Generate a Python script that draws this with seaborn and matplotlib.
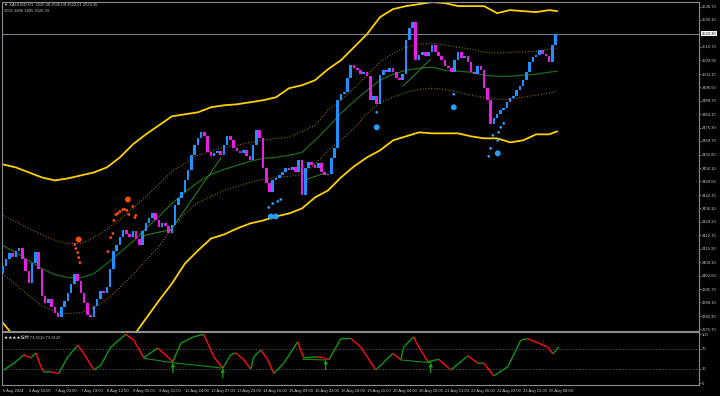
import numpy as np
import matplotlib
matplotlib.use("Agg")
import matplotlib.pyplot as plt
import seaborn as sns
from matplotlib.collections import LineCollection

sns.set_theme(style="dark")
plt.rcParams['font.family'] = ['Liberation Sans', 'DejaVu Sans', 'Noto Sans CJK SC']

# ---------------- data ----------------
first_open = 2404.0
closes = [
    2407.5, 2411.0, 2414.0, 2412.0, 2415.0, 2416.5, 2411.0, 2405.0, 2399.0, 2409.0,
    2414.5, 2406.0, 2392.5, 2389.0, 2391.0, 2387.0, 2384.0, 2382.0, 2387.0, 2390.0,
    2394.0, 2398.5, 2403.5, 2400.0, 2394.0, 2389.0, 2383.0, 2382.0, 2387.5, 2391.0,
    2395.0, 2394.0, 2397.0, 2406.0, 2415.0, 2418.0, 2422.0, 2425.5, 2423.5, 2422.0,
    2425.0, 2421.0, 2418.0, 2425.0, 2429.0, 2431.0, 2433.5, 2430.0, 2427.0, 2429.0,
    2427.5, 2424.0, 2428.0, 2437.5, 2441.0, 2444.0, 2450.0, 2455.0, 2462.5, 2467.5,
    2471.0, 2474.0, 2472.0, 2464.0, 2462.0, 2463.5, 2464.5, 2462.5, 2467.5, 2472.0,
    2470.0, 2466.0, 2464.5, 2463.5, 2465.0, 2462.0, 2460.0, 2467.5, 2475.0, 2471.0,
    2456.0, 2448.5, 2444.0, 2450.0, 2451.0, 2452.5, 2454.0, 2456.0, 2455.0, 2456.5,
    2454.0, 2460.0, 2442.5, 2456.0, 2459.0, 2457.5, 2456.0, 2458.5, 2454.0, 2452.5,
    2453.0, 2461.0, 2466.0, 2490.0, 2493.0, 2494.0, 2501.0, 2507.5, 2506.0, 2505.0,
    2503.0, 2504.0, 2502.0, 2490.0, 2492.0, 2488.0, 2502.5, 2505.0, 2504.0, 2506.0,
    2504.0, 2501.0, 2500.0, 2503.0, 2520.0, 2526.0, 2529.0, 2510.0, 2512.5, 2514.0,
    2512.0, 2514.0, 2517.5, 2514.0, 2512.0, 2510.0, 2507.0, 2506.0, 2504.0, 2510.0,
    2514.0, 2511.0, 2512.0, 2509.0, 2504.0, 2503.0, 2507.0, 2505.0, 2496.0, 2490.0,
    2478.0, 2481.0, 2483.0, 2485.0, 2486.0, 2489.0, 2491.0, 2492.0, 2495.0, 2497.0,
    2500.0, 2504.0, 2509.0, 2511.5, 2512.5, 2515.0, 2513.0, 2512.0, 2509.0, 2517.5,
    2523.3,
]

upper_band = [
    2458.0, 2456.5, 2454.0, 2451.5, 2450.0, 2451.0, 2452.5, 2454.0, 2456.5, 2461.5,
    2468.0, 2473.0, 2477.5, 2482.0, 2483.0, 2484.0, 2486.5, 2487.5, 2488.0, 2489.0,
    2490.0, 2491.5, 2496.0, 2497.5, 2500.0, 2505.5, 2510.0, 2516.5, 2523.0, 2531.5,
    2535.5, 2537.0, 2538.0, 2539.0, 2538.5, 2537.0, 2537.0, 2537.0, 2533.5, 2535.0,
    2534.5, 2534.0, 2535.0, 2534.5,
]
lower_band = [
    2379.0, 2371.0, 2364.0, 2359.0, 2355.0, 2353.0, 2352.5, 2354.0, 2357.5, 2364.0,
    2372.0, 2381.0, 2390.0, 2398.5, 2408.5, 2415.0, 2421.0, 2423.0, 2426.0, 2428.5,
    2430.0, 2432.0, 2433.5, 2436.0, 2441.5, 2445.0, 2451.5, 2457.0, 2461.5, 2465.0,
    2470.0, 2472.0, 2474.0, 2473.5, 2473.5, 2473.5, 2472.0, 2471.0, 2471.0, 2469.0,
    2470.0, 2473.0, 2473.0, 2474.5,
]
upper_dotted = [
    2432.5, 2429.5, 2426.0, 2423.0, 2420.0, 2418.5, 2418.5, 2421.5, 2425.5, 2430.5,
    2436.0, 2442.0, 2448.0, 2454.5, 2458.5, 2462.5, 2464.5, 2466.5, 2467.5, 2469.0,
    2470.0, 2471.0, 2471.5, 2474.5, 2477.5, 2485.0, 2490.0, 2496.0, 2502.5, 2509.0,
    2513.5, 2516.5, 2518.0, 2518.5, 2517.5, 2516.5, 2515.5, 2514.0, 2513.5, 2514.0,
    2514.0, 2514.5, 2515.5, 2516.0,
]
lower_dotted = [
    2403.5, 2398.0, 2392.5, 2387.5, 2384.5, 2383.5, 2384.0, 2386.5, 2390.5, 2396.5,
    2403.0, 2410.0, 2417.0, 2426.0, 2433.5, 2439.0, 2442.0, 2445.0, 2447.0, 2449.0,
    2450.5, 2451.5, 2452.0, 2453.0, 2458.0, 2465.0, 2470.0, 2476.0, 2483.5, 2489.0,
    2491.5, 2494.0, 2495.5, 2496.0, 2495.5, 2494.0, 2492.5, 2491.5, 2490.5, 2490.5,
    2491.5, 2492.5, 2493.5, 2494.5,
]
middle_line = [
    2417.5, 2414.0, 2410.0, 2406.0, 2403.0, 2401.5, 2401.5, 2403.5, 2408.5, 2414.0,
    2419.5, 2426.0, 2432.0, 2438.5, 2444.0, 2449.0, 2453.0, 2455.5, 2457.5, 2459.5,
    2461.0, 2461.5, 2462.5, 2464.0, 2470.0, 2476.5, 2483.5, 2489.5, 2495.0, 2500.0,
    2503.0, 2505.0, 2506.0, 2506.5, 2505.0, 2504.5, 2504.0, 2502.5, 2502.0, 2502.0,
    2502.5, 2503.0, 2504.0, 2504.5,
]

# trend / divergence lines on price (bar index, price)
trend_lines = [
    [(86.7, 2422.5), (103.5, 2425.5), (134.0, 2461.0)],
    [(185.1, 2450.0), (197.4, 2453.5)],
    [(246.0, 2497.0), (263.2, 2510.5)],
]

# signal dots (bar index, price, size flag)
sell_x = [46.7, 44.3, 44.9, 46.1, 46.7, 47.4, 76.9, 64.6, 66.4, 67.7, 68.3, 69.5, 70.7,
          72.0, 73.8, 75.0, 76.3, 77.5, 80.0, 81.2, 81.8]
sell_y = [2420.5, 2418.0, 2416.0, 2414.0, 2411.5, 2409.0, 2440.5, 2414.5, 2421.5, 2423.5,
          2430.0, 2433.0, 2433.5, 2434.5, 2435.5, 2435.5, 2435.0, 2433.0, 2437.0, 2431.5,
          2432.5]
sell_big = [1, 0, 0, 0, 0, 0, 1, 0, 0, 0, 0, 0, 0, 0, 0, 0, 0, 0, 0, 0, 0]

buy_x = [163.6, 164.8, 167.9, 166.0, 169.1, 171.0, 230.0, 230.0, 277.4, 277.4,
         308.1, 306.3, 305.0, 301.4, 304.4, 300.1, 304.4, 298.9]
buy_y = [2436.5, 2432.0, 2432.0, 2438.5, 2439.5, 2440.5, 2484.0, 2476.5, 2493.0, 2486.5,
         2478.5, 2476.5, 2474.0, 2472.5, 2470.0, 2466.0, 2463.5, 2462.0]
buy_big = [0, 1, 1, 0, 0, 0, 0, 1, 0, 1, 0, 0, 0, 0, 0, 0, 1, 0]

# oscillator (bar index, value)
osc_x = [0.6, 6.8, 12.9, 17.2, 20.3, 23.4, 25.2, 29.5, 34.4, 40.0, 46.1, 49.8, 56.0,
         60.3, 66.4, 75.6, 80.6, 86.7, 89.2, 95.3, 99.0, 104.6, 109.5, 117.5, 123.6,
         129.8, 135.3, 140.2, 143.3, 148.2, 152.5, 154.4, 158.7, 163.0, 166.7, 172.8,
         181.4, 182.0, 185.1, 193.7, 197.4, 200.5, 207.9, 214.0, 220.2, 229.4, 239.9,
         244.8, 246.6, 252.8, 254.0, 261.4, 268.1, 275.5, 286.0, 292.1, 295.8, 302.0,
         310.6, 318.6, 322.9, 330.9, 335.2, 338.3, 341.9]
osc_v = [27, 41, 58, 52, 62, 34, 23, 23.5, 20, 54, 78, 61, 27,
         37, 74, 100, 88, 52, 58, 72, 61, 44, 82, 95, 100,
         54, 31, 58, 62, 48, 29, 54, 68, 48, 20, 41,
         85, 78, 52, 54, 52, 48, 91, 91.5, 74, 27, 61,
         48, 74, 95, 85, 44, 49, 27, 56, 41, 41.5, 15,
         34, 88, 91, 80, 74, 60, 74]

osc_div_lines = [
    [(86.7, 51), (104.6, 42), (135.3, 31)],
    [(184.5, 49), (198.6, 47.6)],
    [(244.8, 47.6), (263.2, 42)],
]
osc_arrows_x = [104.6, 135.3, 198.6, 263.2]
osc_arrows_v = [42, 31, 48, 42]

x_labels = ["5 Aug 2024", "6 Aug 10:00", "7 Aug 03:00", "7 Aug 19:00", "8 Aug 12:00",
            "9 Aug 05:00", "9 Aug 21:00", "12 Aug 14:00", "13 Aug 07:00", "13 Aug 23:00",
            "14 Aug 16:00", "15 Aug 09:00", "16 Aug 02:00", "16 Aug 18:00", "19 Aug 11:00",
            "20 Aug 04:00", "20 Aug 20:00", "21 Aug 13:00", "22 Aug 06:00", "22 Aug 22:00",
            "23 Aug 15:00", "26 Aug 08:00"]
price_ticks = [2536.70, 2530.10, 2516.70, 2509.90, 2503.10, 2496.50, 2489.70, 2483.10,
               2476.30, 2469.70, 2462.90, 2456.10, 2449.50, 2442.70, 2436.10, 2429.30,
               2422.70, 2415.90, 2409.10, 2402.50, 2395.70, 2389.10, 2382.30, 2375.70]
current_price = 2523.30
header1 = "▼ XAUUSD,H1  2525.08 2526.09 2522.51 2523.35"
header2 = "1001 2806 1805 2526.33"
osc_title = "★★★★指标 73.6129 73.6129"

# ---------------- figure ----------------
BG = "black"
TXT = "#c8c8c8"
FR = "#8c8c8c"
FS = 3.0
fig = plt.figure(figsize=(7.2, 3.96), dpi=100, facecolor=BG)
ax = fig.add_axes([2 / 720, 65 / 396, 697 / 720, 329 / 396], facecolor=BG)
ax2 = fig.add_axes([2 / 720, 11 / 396, 697 / 720, 53 / 396], facecolor=BG, sharex=ax)

n = len(closes)
cx = np.arange(n) * 2
opens = [first_open] + closes[:-1]
c = np.array(closes)
o = np.array(opens)
bottoms = np.minimum(o, c)
heights = np.maximum(np.abs(c - o), 0.4)
cols = ["#1e90ff" if cc >= oo else "#e81ee8" for cc, oo in zip(c, o)]
ax.bar(cx, heights, bottom=bottoms, width=1.6, color=cols, linewidth=0, zorder=3)

bx = np.r_[np.arange(0, 337, 8), 341]
sns.lineplot(x=bx, y=upper_band, ax=ax, color="#ffd000", linewidth=1.3, zorder=2)
sns.lineplot(x=bx, y=lower_band, ax=ax, color="#ffd000", linewidth=1.3, zorder=2)
sns.lineplot(x=bx, y=upper_dotted, ax=ax, color="#8a6a10", linewidth=0.8,
             linestyle=(0, (1, 1.5)), zorder=2)
sns.lineplot(x=bx, y=lower_dotted, ax=ax, color="#8a6a10", linewidth=0.8,
             linestyle=(0, (1, 1.5)), zorder=2)
sns.lineplot(x=bx, y=middle_line, ax=ax, color="#1a6e1a", linewidth=0.9, zorder=2)
for tl in trend_lines:
    xs, ys = zip(*tl)
    ax.plot(xs, ys, color="#2e8b2e", linewidth=0.7, zorder=2)

ss = [18 if b else 4 for b in sell_big]
sns.scatterplot(x=sell_x, y=sell_y, s=ss, color="#ff4a10", linewidth=0, ax=ax, zorder=4,
                legend=False)
bs = [18 if b else 4 for b in buy_big]
sns.scatterplot(x=buy_x, y=buy_y, s=bs, color="#2a9df4", linewidth=0, ax=ax, zorder=4,
                legend=False)

ax.axhline(current_price, color="#6f7c8c", linewidth=0.8, zorder=1)

ax.set_xlim(-0.5, 428.2)
ax.set_ylim(2374.85, 2539.05)
ax.set_xlabel("")
ax.set_ylabel("")
ax.yaxis.tick_right()
ax.set_yticks(price_ticks)
ax.set_yticklabels([f"{p:.2f}" for p in price_ticks])
ax.tick_params(axis="y", colors=FR, labelcolor=TXT, labelsize=FS, length=1.5, width=0.5,
               pad=0.8, direction="out")
ax.tick_params(axis="x", bottom=False, labelbottom=False)
ax.text(1.004, (current_price - 2374.85) / (2539.05 - 2374.85), f"{current_price:.2f}",
        transform=ax.transAxes, fontsize=FS, color="black", va="center", ha="left",
        bbox=dict(boxstyle="square,pad=0.15", facecolor="white", edgecolor="none"))
for s in ax.spines.values():
    s.set_color(FR)
    s.set_linewidth(0.8)
ax.grid(False)

# oscillator panel
pts = np.column_stack([osc_x, osc_v])
segs = np.stack([pts[:-1], pts[1:]], axis=1)
seg_cols = ["#149614" if b > a else "#ff1010" for a, b in zip(osc_v[:-1], osc_v[1:])]
ax2.add_collection(LineCollection(segs, colors=seg_cols, linewidths=1.0, zorder=3))
for lv in (70, 30):
    ax2.axhline(lv, color="#4a5560", linewidth=0.6, linestyle=(0, (2, 2)), zorder=1)
for dl in osc_div_lines:
    xs, ys = zip(*dl)
    ax2.plot(xs, ys, color="#1a8a1a", linewidth=0.8, zorder=2)
for xa, va in zip(osc_arrows_x, osc_arrows_v):
    ax2.annotate("", xy=(xa, va), xytext=(xa, va - 20),
                 arrowprops=dict(arrowstyle="-|>", color="#1a9a1a", lw=0.9,
                                 mutation_scale=5, shrinkA=0, shrinkB=0), zorder=4)
ax2.set_ylim(-3.5, 104.7)
ax2.yaxis.tick_right()
ax2.set_yticks([100, 70, 30, 0])
ax2.set_yticklabels(["100", "70", "30", "0"])
ax2.tick_params(axis="y", colors=FR, labelcolor=TXT, labelsize=FS, length=1.5, width=0.5,
                pad=0.8)
ticks_x = np.arange(len(x_labels)) * 16
ax2.set_xticks(ticks_x)
ax2.set_xticklabels(x_labels, ha="left")
ax2.tick_params(axis="x", colors=FR, labelcolor=TXT, labelsize=FS, length=2, width=0.5,
                pad=1.0)
ax2.text(0.003, 0.93, osc_title, transform=ax2.transAxes, fontsize=FS, color=TXT,
         va="top", ha="left", family=["Noto Sans CJK SC", "DejaVu Sans"])
for s in ax2.spines.values():
    s.set_color(FR)
    s.set_linewidth(0.8)
ax2.grid(False)

fig.text(4 / 720, 1 - 5 / 396, header1, fontsize=FS, color=TXT, va="center", ha="left")
fig.text(4 / 720, 1 - 11 / 396, header2, fontsize=FS, color=TXT, va="center", ha="left")

fig.savefig("out.png", dpi=100, facecolor=BG)
